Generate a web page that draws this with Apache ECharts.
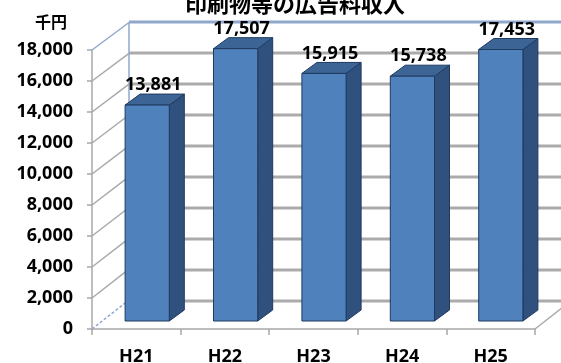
<!DOCTYPE html>
<html><head><meta charset="utf-8">
<script src="https://cdn.jsdelivr.net/npm/echarts@6/dist/echarts.min.js"></script>
<style>html,body{margin:0;padding:0;background:#fff}#c{width:561px;height:363px}</style>
</head><body><div id="c"></div>
<script>
const chartTitle = '印刷物等の広告料収入';
const unitLabel = '千円';
const categories = ['H21', 'H22', 'H23', 'H24', 'H25'];
const values = [13881, 17507, 15915, 15738, 17453];
const yMax = 18000;
const yInterval = 2000;
const wallTicks = [0, 2000, 4000, 6000, 8000, 10000, 12000, 14000, 16000, 18000];

const numFont = '"Noto Sans", "DejaVu Sans", sans-serif';
const cjkFont = '"Noto Sans CJK JP", sans-serif';
const fmt = v => v.toLocaleString('en-US');

const chart = echarts.init(document.getElementById('c'), null, {renderer: 'canvas'});
const gridGray = '#A8A8A8';
const wallGray = '#ABABAB';
const wallBlue = '#8FA8CC';

const gridBase = {outerBoundsMode: 'none', containLabel: false};

chart.setOption({
  animation: false,
  title: [
    {text: chartTitle, left: 185, top: -7, padding: 0,
     textStyle: {fontFamily: cjkFont, fontSize: 22, fontWeight: 'bold', color: '#000'}},
    {text: unitLabel, left: 35, top: 14, padding: 0,
     textStyle: {fontFamily: cjkFont, fontSize: 16, fontWeight: 'bold', color: '#000'}}
  ],
  grid: [
    Object.assign({left: 129, right: 0, top: 22, bottom: 62}, gridBase),
    Object.assign({left: 92, right: 26, top: 50, bottom: 34}, gridBase),
    Object.assign({left: 103, right: 16, top: 41, bottom: 42}, gridBase)
  ],
  xAxis: [
    {gridIndex: 0, type: 'category', data: categories, show: false},
    {gridIndex: 1, type: 'category', data: categories,
     axisLine: {lineStyle: {color: gridGray, width: 1.5}},
     axisTick: {show: true, length: 6, lineStyle: {color: gridGray, width: 1.5}},
     axisLabel: {margin: 19, fontFamily: numFont, fontSize: 18, fontWeight: 'bold', color: '#000'}},
    {gridIndex: 2, type: 'category', data: categories, show: false}
  ],
  yAxis: [
    {gridIndex: 0, type: 'value', min: 0, max: yMax, interval: yInterval, show: false},
    {gridIndex: 1, type: 'value', min: 0, max: yMax, interval: yInterval,
     axisLine: {show: true, lineStyle: {color: gridGray, width: 1.5}},
     axisTick: {show: true, length: 5, lineStyle: {color: gridGray, width: 1.5}},
     axisLabel: {margin: 19, fontFamily: numFont, fontSize: 18, fontWeight: 'bold', color: '#000',
                 formatter: v => fmt(v)},
     splitLine: {show: false}},
    {gridIndex: 2, type: 'value', min: 0, max: yMax, interval: yInterval, show: false, splitLine: {show: false}}
  ],
  series: [
    {
      // back wall gridlines
      type: 'custom', xAxisIndex: 0, yAxisIndex: 0, z: 0, silent: true, clip: false,
      data: wallTicks.map(v => [0, v]),
      encode: {x: 0, y: 1},
      renderItem(params, api) {
        const v = api.value(1);
        const p = api.coord([0, v]);
        const cs = params.coordSys;
        const children = [{
          type: 'line',
          shape: {x1: cs.x, y1: p[1], x2: cs.x + cs.width, y2: p[1]},
          style: {stroke: v === yMax ? wallBlue : wallGray, lineWidth: 3}
        }];
        if (v === yMax) {
          children.push({type: 'line', shape: {x1: cs.x, y1: cs.y, x2: cs.x, y2: cs.y + cs.height},
            style: {stroke: wallBlue, lineWidth: 1.5}});
        }
        return {type: 'group', children};
      }
    },
    {
      // side wall diagonals and floor edge
      type: 'custom', xAxisIndex: 1, yAxisIndex: 1, z: 1, silent: true, clip: false,
      data: wallTicks.map(v => [0, v]),
      encode: {x: 0, y: 1},
      renderItem(params, api) {
        const v = api.value(1);
        const p = api.coord([0, v]);
        const cs = params.coordSys;
        const x = cs.x;
        const dy = -29 + 1.5 * v / yMax;
        const blue = (v === 0 || v === yMax);
        const children = [{
          type: 'line',
          shape: {x1: x, y1: p[1], x2: x + 37, y2: p[1] + dy},
          style: {stroke: blue ? wallBlue : gridGray, lineWidth: 1.5, lineDash: v === 0 ? [3, 2] : null}
        }];
        if (v === 0) {
          const xr = cs.x + cs.width;
          children.push({type: 'line', shape: {x1: xr, y1: p[1], x2: xr + 37, y2: p[1] - 29},
            style: {stroke: gridGray, lineWidth: 1.5}});
        }
        return {type: 'group', children};
      }
    },
    {
      // 3D bars
      type: 'custom', xAxisIndex: 2, yAxisIndex: 2, z: 5, silent: true, clip: false,
      data: values.map((v, i) => [i, v]),
      encode: {x: 0, y: 1},
      renderItem(params, api) {
        const i = api.value(0), v = api.value(1);
        const b = api.coord([i, 0]);
        const t = api.coord([i, v]);
        const w = api.size([1, 0])[0] * 0.5;
        const x0 = b[0] - w / 2, x1 = b[0] + w / 2, yb = b[1], yt = t[1];
        const dx = 15, dy = 11;
        const edge = '#1F3A5F';
        return {type: 'group', children: [
          {type: 'polygon', shape: {points: [[x1, yb], [x1, yt], [x1 + dx, yt - dy], [x1 + dx, yb - dy]]},
           style: {fill: '#30507E', stroke: edge, lineWidth: 1}},
          {type: 'polygon', shape: {points: [[x0, yt], [x1, yt], [x1 + dx, yt - dy], [x0 + dx, yt - dy]]},
           style: {fill: '#3C6596', stroke: edge, lineWidth: 1}},
          {type: 'rect', shape: {x: x0, y: yt, width: w, height: yb - yt},
           style: {fill: '#4F81BD', stroke: edge, lineWidth: 1}},
          {type: 'text', z2: 10, style: {text: fmt(v), x: (x0 + x1) / 2 + 6, y: yt - dy,
            align: 'center', verticalAlign: 'bottom',
            font: 'bold 18px ' + numFont, fill: '#000'}}
        ]};
      }
    }
  ]
});
</script></body></html>
